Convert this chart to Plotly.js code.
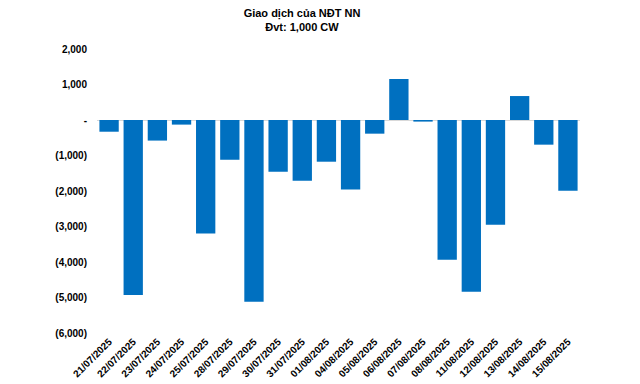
<!DOCTYPE html>
<html><head><meta charset="utf-8">
<script src="https://cdn.plot.ly/plotly-3.0.1.min.js"></script>
<style>html,body{margin:0;padding:0;background:#fff}#c{width:640px;height:384px}</style>
</head><body><div id="c"></div>
<script>
const categories = ["21/07/2025","22/07/2025","23/07/2025","24/07/2025","25/07/2025","28/07/2025","29/07/2025","30/07/2025","31/07/2025","01/08/2025","04/08/2025","05/08/2025","06/08/2025","07/08/2025","08/08/2025","11/08/2025","12/08/2025","13/08/2025","14/08/2025","15/08/2025"];
const values = [-330,-4930,-580,-130,-3200,-1120,-5120,-1455,-1710,-1175,-1960,-385,1155,-45,-3935,-4835,-2950,675,-695,-1990];
const yTickVals = [2000,1000,0,-1000,-2000,-3000,-4000,-5000,-6000];
const yTickText = ["2,000","1,000","-","(1,000)","(2,000)","(3,000)","(4,000)","(5,000)","(6,000)"];
const titleText = "Giao dịch của NĐT NN<br>Đvt: 1,000 CW";

const font = "Arial, 'Liberation Sans', sans-serif";
Plotly.newPlot('c', [{
  type: 'bar', x: categories, y: values,
  marker: {color: '#0070C0'}, hoverinfo: 'none'
}], {
  width: 640, height: 384,
  margin: {l: 97, r: 60, t: 49, b: 51},
  paper_bgcolor: '#fff', plot_bgcolor: '#fff',
  bargap: 0.2,
  showlegend: false,
  title: {text: titleText, x: 302/640, xanchor: 'center', y: 1 - 16.5/384, yanchor: 'middle',
    font: {family: font, size: 11, color: '#000', weight: 'bold'}},
  xaxis: {type: 'category', tickangle: -45, showgrid: false, showline: false, ticks: '',
    tickfont: {family: font, size: 10, color: '#000', weight: 'bold'}, automargin: false},
  yaxis: {range: [-6000, 2000], tickvals: yTickVals, ticktext: yTickText, showgrid: false,
    zeroline: true, zerolinecolor: '#d9d9d9', zerolinewidth: 1, showline: false, ticks: '',
    ticklabelstandoff: 9,
    tickfont: {family: font, size: 10, color: '#000', weight: 'bold'}, automargin: false}
}, {displayModeBar: false, staticPlot: true});
</script></body></html>
